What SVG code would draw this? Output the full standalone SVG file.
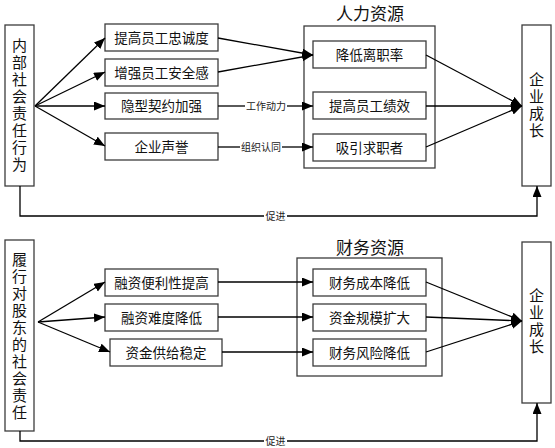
<svg xmlns="http://www.w3.org/2000/svg" width="555" height="448" viewBox="0 0 555 448">
<defs>
<marker id="ah" markerUnits="userSpaceOnUse" markerWidth="12" markerHeight="10" refX="11" refY="4.5" orient="auto">
<path d="M0,0 L11,4.5 L0,9 z" fill="#000"/>
</marker>
<style>
.box{fill:#fff;stroke:#3c3c3c;stroke-width:1.3}
.t{font-family:"Noto Sans CJK SC","Liberation Sans",sans-serif;font-size:13.5px;fill:#111;text-anchor:middle}
.v{font-family:"Noto Sans CJK SC","Liberation Sans",sans-serif;font-size:15px;fill:#111;text-anchor:middle;writing-mode:vertical-rl;letter-spacing:2px}
.ti{font-family:"Noto Sans CJK SC","Liberation Sans",sans-serif;font-size:17px;fill:#111;text-anchor:middle}
.s{font-family:"Noto Sans CJK SC","Liberation Sans",sans-serif;font-size:10px;fill:#222;text-anchor:middle}
.ln{fill:none;stroke:#000;stroke-width:1.3}
.ar{fill:none;stroke:#000;stroke-width:1.3;marker-end:url(#ah)}
</style>
</defs>
<rect width="555" height="448" fill="#fff"/>

<g id="hr-group">
<rect class="box" x="304" y="26" width="131" height="142"/>
<text class="ti" x="370" y="20">人力资源</text>
</g>
<g id="fin-group">
<rect class="box" x="297" y="258" width="145" height="118"/>
<text class="ti" x="370" y="254">财务资源</text>
</g>

<g id="internal-csr">
<rect class="box" x="5" y="25" width="29" height="161"/>
<text class="v" x="19.5" y="106">内部社会责任行为</text>
</g>
<g id="n-loyalty"><rect class="box" x="105" y="24" width="113" height="27"/><text class="t" x="161.5" y="42.5">提高员工忠诚度</text></g>
<g id="n-security"><rect class="box" x="105" y="59" width="113" height="27"/><text class="t" x="161.5" y="77.5">增强员工安全感</text></g>
<g id="n-contract"><rect class="box" x="105" y="93" width="113" height="26"/><text class="t" x="161.5" y="111">隐型契约加强</text></g>
<g id="n-reputation"><rect class="box" x="105" y="133" width="113" height="27"/><text class="t" x="161.5" y="151.5">企业声誉</text></g>
<g id="n-turnover"><rect class="box" x="313" y="41" width="113" height="27"/><text class="t" x="369.5" y="59.5">降低离职率</text></g>
<g id="n-performance"><rect class="box" x="313" y="92" width="113" height="27"/><text class="t" x="369.5" y="110.5">提高员工绩效</text></g>
<g id="n-attract"><rect class="box" x="313" y="134" width="113" height="27"/><text class="t" x="369.5" y="152.5">吸引求职者</text></g>
<g id="growth-1">
<rect class="box" x="522" y="25" width="29" height="161"/>
<text class="v" x="536.5" y="106">企业成长</text>
</g>

<g id="shareholder-csr">
<rect class="box" x="5" y="240" width="29" height="191"/>
<text class="v" x="19.5" y="337">履行对股东的社会责任</text>
</g>
<g id="n-convenience"><rect class="box" x="105" y="269" width="113" height="27"/><text class="t" x="161.5" y="287.5">融资便利性提高</text></g>
<g id="n-difficulty"><rect class="box" x="105" y="304" width="113" height="27"/><text class="t" x="161.5" y="322.5">融资难度降低</text></g>
<g id="n-supply"><rect class="box" x="110" y="339" width="112" height="27"/><text class="t" x="166" y="357.5">资金供给稳定</text></g>
<g id="n-cost"><rect class="box" x="313" y="269" width="113" height="27"/><text class="t" x="369.5" y="287.5">财务成本降低</text></g>
<g id="n-scale"><rect class="box" x="313" y="304" width="113" height="27"/><text class="t" x="369.5" y="322.5">资金规模扩大</text></g>
<g id="n-risk"><rect class="box" x="313" y="339" width="113" height="27"/><text class="t" x="369.5" y="357.5">财务风险降低</text></g>
<g id="growth-2">
<rect class="box" x="522" y="242" width="29" height="161"/>
<text class="v" x="536.5" y="322">企业成长</text>
</g>

<g id="connectors">
<path class="ar" d="M35,106 L105,38"/>
<path class="ar" d="M35,106 L105,72"/>
<path class="ar" d="M35,106 L105,106"/>
<path class="ar" d="M35,106 L105,146"/>
<path class="ar" d="M218,38 L313,55"/>
<path class="ar" d="M218,72 L313,55"/>
<path class="ln" d="M218,106 H245"/>
<path class="ar" d="M287,106 H313"/>
<text class="s" x="266" y="109.5">工作动力</text>
<path class="ln" d="M218,147 H240"/>
<path class="ar" d="M282,147 H313"/>
<text class="s" x="261" y="150.5">组织认同</text>
<path class="ar" d="M426,55 L522,106"/>
<path class="ar" d="M426,106 L522,106"/>
<path class="ar" d="M426,147 L522,106"/>
<path class="ln" d="M20,186 V216 H264"/>
<path class="ar" d="M287,216 H537 V186"/>
<text class="s" x="275.5" y="219.5">促进</text>

<path class="ar" d="M38,322 L105,282"/>
<path class="ar" d="M38,322 L105,317"/>
<path class="ar" d="M38,322 L110,352"/>
<path class="ar" d="M218,282 H313"/>
<path class="ar" d="M218,317 H313"/>
<path class="ar" d="M222,352 H313"/>
<path class="ar" d="M426,282 L522,321"/>
<path class="ar" d="M426,317 L522,321"/>
<path class="ar" d="M426,352 L522,321"/>
<path class="ln" d="M20,431 V441 H264"/>
<path class="ar" d="M287,441 H537 V403"/>
<text class="s" x="275.5" y="444.5">促进</text>
</g>
</svg>
